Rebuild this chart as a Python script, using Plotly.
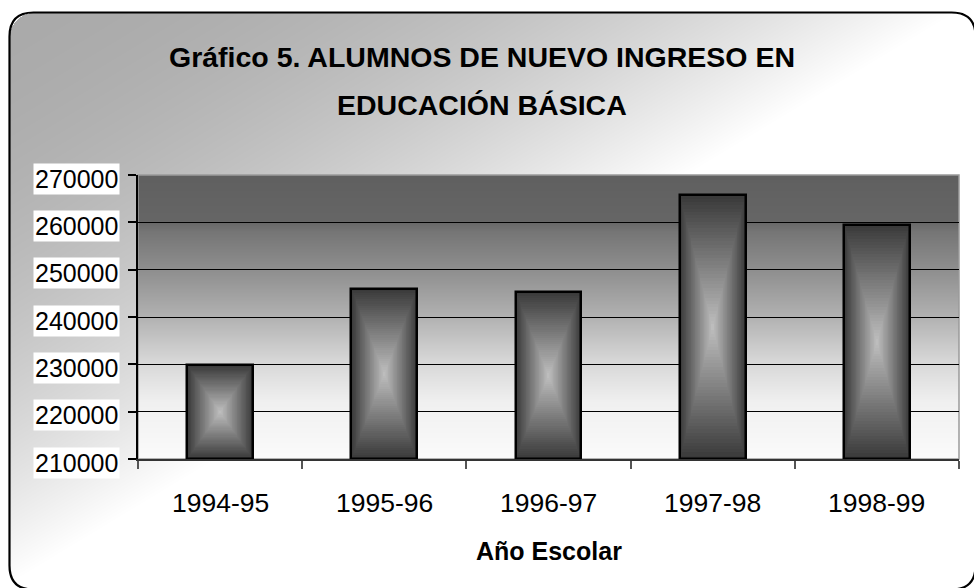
import base64
import struct
import zlib

import numpy as np
import plotly.graph_objects as go

# ---------------- data ----------------
categories = ["1994-95", "1995-96", "1996-97", "1997-98", "1998-99"]
alumnos = [229900, 246000, 245300, 265700, 259500]
y_ticks = [210000, 220000, 230000, 240000, 250000, 260000, 270000]
y_tick_labels = ["210000", "220000", "230000", "240000", "250000", "260000", "270000"]
title_lines = ["Gráfico 5. ALUMNOS DE NUEVO INGRESO EN", "EDUCACIÓN BÁSICA"]
x_title = "Año Escolar"

# ---------------- geometry helpers ----------------
W, H = 974, 588
ML, MR, MT, MB = 138, 15, 175, 129
PW, PH = W - ML - MR, H - MT - MB
FONT = "Liberation Sans, Arial, sans-serif"


def pxx(px):
    return (px - ML) / PW


def pxy(py):
    return (H - MB - py) / PH


def png_uri(arr):
    arr = np.ascontiguousarray(arr.astype(np.uint8))
    h, w, c = arr.shape
    ctype = 2 if c == 3 else 6
    raw = b"".join(b"\x00" + arr[i].tobytes() for i in range(h))

    def chunk(tag, data):
        return (struct.pack(">I", len(data)) + tag + data
                + struct.pack(">I", zlib.crc32(tag + data) & 0xFFFFFFFF))

    png = (b"\x89PNG\r\n\x1a\n"
           + chunk(b"IHDR", struct.pack(">IIBBBBB", w, h, 8, ctype, 0, 0, 0))
           + chunk(b"IDAT", zlib.compress(raw, 9))
           + chunk(b"IEND", b""))
    return "data:image/png;base64," + base64.b64encode(png).decode()


# chart-area background: diagonal gray->white gradient inside rounded frame
bx0, by0, bx1, by1, br = 9.5, 12.5, 975.5, 589.5, 24
yy, xx = np.mgrid[0:H, 0:W].astype(float)
s = np.clip(xx / W + yy / H, 0, 1)
val = 170 + 85 * s ** 2
cx = np.clip(xx, bx0 + br, bx1 - br)
cy = np.clip(yy, by0 + br, by1 - br)
inside = (xx - cx) ** 2 + (yy - cy) ** 2 <= br ** 2
val = np.where(inside, val, 255)
bg = np.repeat(val[:, :, None], 3, axis=2)

# plot-area vertical gradient
stops_f = [0.0, 0.16, 0.2, 0.35, 0.5, 0.65, 0.8, 1.0]
stops_v = [96, 102, 118, 146, 178, 214, 240, 251]
gy = np.interp(np.linspace(0, 1, PH), stops_f, stops_v)
pg = np.repeat(np.repeat(gy[:, None, None], 8, axis=1), 3, axis=2)

fig = go.Figure()

# bars: concentric rectangle gradient (dark edges, light centre)
N = 40
base0 = y_ticks[0]
heights = [v - base0 for v in alumnos]
bar_w = 0.40
for k in range(N):
    t = k / N
    g = int(round(58 + (192 - 58) * t))
    fig.add_trace(go.Bar(
        x=categories,
        y=[h * (1 - t) for h in heights],
        base=[base0 + t * h / 2 for h in heights],
        width=bar_w * (1 - t),
        marker=dict(color=f"rgb({g},{g},{g})", line=dict(width=0)),
        hoverinfo="skip", showlegend=False,
    ))
fig.add_trace(go.Bar(
    x=categories, y=heights, base=base0, width=bar_w,
    marker=dict(color="rgba(0,0,0,0)", line=dict(color="black", width=2.5)),
    showlegend=False, name="Alumnos",
))

# rounded frame path (paper coords)
def P(x, y):
    return f"{pxx(x):.5f},{pxy(y):.5f}"

frame = (f"M {P(bx0 + br, by0)} L {P(bx1 - br, by0)} Q {P(bx1, by0)} {P(bx1, by0 + br)} "
         f"L {P(bx1, by1 - br)} Q {P(bx1, by1)} {P(bx1 - br, by1)} "
         f"L {P(bx0 + br, by1)} Q {P(bx0, by1)} {P(bx0, by1 - br)} "
         f"L {P(bx0, by0 + br)} Q {P(bx0, by0)} {P(bx0 + br, by0)} Z")

shapes = [
    dict(type="rect", xref="paper", yref="paper", x0=0, x1=1, y0=0, y1=1,
         line=dict(color="#9a9a9a", width=1.5), fillcolor="rgba(0,0,0,0)", layer="below"),
    dict(type="path", xref="paper", yref="paper", path=frame,
         line=dict(color="black", width=2.2), fillcolor="rgba(0,0,0,0)", layer="above"),
]

images = [
    dict(source=png_uri(bg), xref="paper", yref="paper", x=pxx(0), y=pxy(0),
         sizex=W / PW, sizey=H / PH, xanchor="left", yanchor="top",
         sizing="stretch", layer="below"),
    dict(source=png_uri(pg), xref="paper", yref="paper", x=0, y=1,
         sizex=1, sizey=1, xanchor="left", yanchor="top",
         sizing="stretch", layer="below"),
]

annotations = []
for i, line in enumerate(title_lines):
    annotations.append(dict(
        text=f"<b>{line}</b>", xref="paper", yref="paper", x=pxx(482), y=pxy([57, 104.5][i]),
        xanchor="center", yanchor="middle", showarrow=False,
        font=dict(family=FONT, size=28.5, color="black")))
for v, lab in zip(y_ticks, y_tick_labels):
    annotations.append(dict(
        text=lab, xref="paper", yref="y", x=pxx(120), y=v, yshift=-3.5,
        xanchor="right", yanchor="middle", showarrow=False, bgcolor="white",
        borderpad=1, font=dict(family=FONT, size=25, color="black")))
for c in categories:
    annotations.append(dict(
        text=c, xref="x", yref="paper", x=c, y=pxy(503),
        xanchor="center", yanchor="middle", showarrow=False, bgcolor="white",
        borderpad=1, font=dict(family=FONT, size=26.5, color="black")))
annotations.append(dict(
    text=f"<b>{x_title}</b>", xref="paper", yref="paper", x=0.5, y=pxy(551),
    xanchor="center", yanchor="middle", showarrow=False,
    font=dict(family=FONT, size=25, color="black")))

fig.update_layout(
    width=W, height=H,
    margin=dict(l=ML, r=MR, t=MT, b=MB),
    paper_bgcolor="white", plot_bgcolor="rgba(0,0,0,0)",
    barmode="overlay", bargap=0,
    showlegend=False,
    shapes=shapes, images=images, annotations=annotations,
    xaxis=dict(type="category", categoryorder="array", categoryarray=categories,
               range=[-0.5, 4.5], showgrid=False, tickson="boundaries",
               ticks="outside", ticklen=8, tickwidth=1.5, tickcolor="#555555",
               showline=True, linecolor="#333333", linewidth=1.5,
               showticklabels=False, fixedrange=True),
    yaxis=dict(range=[y_ticks[0], y_ticks[-1]], tickvals=y_ticks,
               showgrid=True, gridcolor="black", gridwidth=1,
               ticks="outside", ticklen=8, tickwidth=1.5, tickcolor="black",
               showline=True, linecolor="black", linewidth=1.5,
               zeroline=False, showticklabels=False, fixedrange=True),
)

fig.write_html(
    "out.html",
    config={"displayModeBar": False},
    post_script="document.body.style.margin='0';document.body.style.overflow='hidden';",
)
